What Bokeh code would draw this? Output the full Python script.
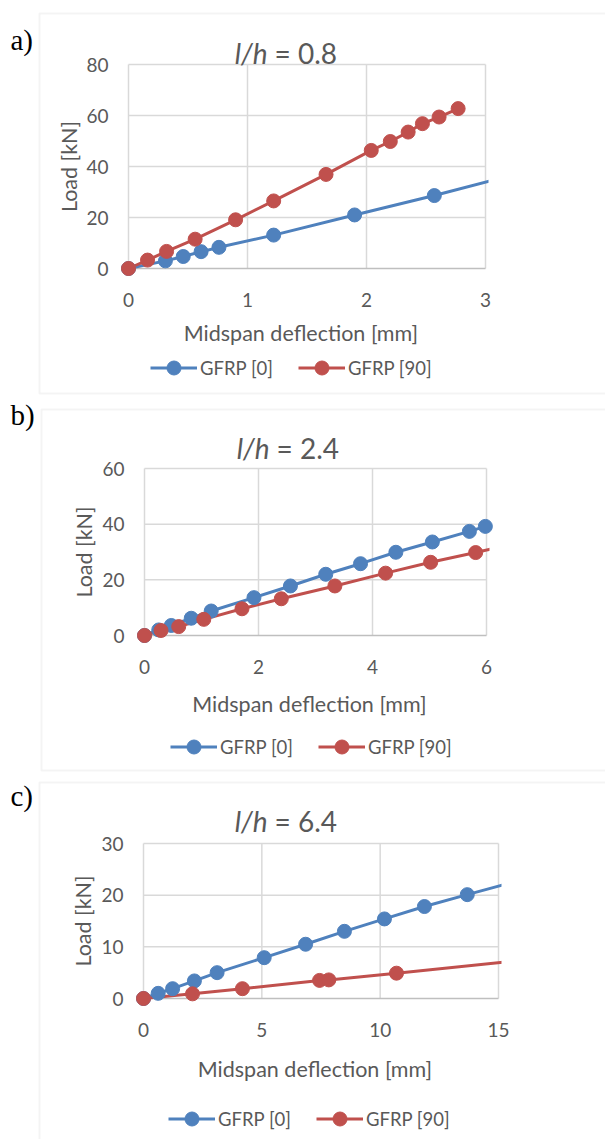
from bokeh.plotting import figure
from bokeh.layouts import column
from bokeh.models import (Range1d, FixedTicker, Label, Legend, LegendItem, BoxAnnotation)
from bokeh.embed import file_html
from bokeh.resources import INLINE

# ---------------- data ----------------
panel_tags = ["a)", "b)", "c)"]
titles_ratio = ["0.8", "2.4", "6.4"]
x_label = "Midspan deflection [mm]"
y_label = "Load [kN]"
series_names = ["GFRP [0]", "GFRP [90]"]

# panel a (l/h = 0.8)
a_x_ticks = [0, 1, 2, 3]
a_y_ticks = [0, 20, 40, 60, 80]
a_g0_x = [0, 0.31, 0.46, 0.61, 0.76, 1.22, 1.90, 2.57, 3.30]
a_g0_y = [0, 3.0, 4.7, 6.6, 8.3, 13.1, 21.0, 28.6, 37.5]
a_g90_x = [0, 0.16, 0.32, 0.56, 0.90, 1.22, 1.66, 2.04, 2.20, 2.35, 2.47, 2.61, 2.77]
a_g90_y = [0, 3.3, 6.7, 11.5, 19.1, 26.5, 36.9, 46.3, 49.8, 53.5, 56.8, 59.4, 62.7]

# panel b (l/h = 2.4)
b_x_ticks = [0, 2, 4, 6]
b_y_ticks = [0, 20, 40, 60]
b_g0_x = [0, 0.25, 0.47, 0.82, 1.17, 1.92, 2.56, 3.18, 3.79, 4.41, 5.05, 5.70, 5.98]
b_g0_y = [0, 2.0, 3.6, 6.2, 8.8, 13.6, 17.8, 22.0, 25.8, 29.9, 33.6, 37.4, 39.2]
b_g90_x = [0, 0.29, 0.60, 1.04, 1.71, 2.40, 3.34, 4.23, 5.02, 5.81, 6.50]
b_g90_y = [0, 1.8, 3.2, 5.8, 9.6, 13.2, 17.8, 22.4, 26.3, 29.8, 33.0]

# panel c (l/h = 6.4)
c_x_ticks = [0, 5, 10, 15]
c_y_ticks = [0, 10, 20, 30]
c_g0_x = [0, 0.62, 1.23, 2.15, 3.11, 5.10, 6.85, 8.49, 10.18, 11.87, 13.68, 15.60]
c_g0_y = [0, 1.0, 1.9, 3.4, 5.0, 7.9, 10.5, 13.0, 15.4, 17.8, 20.1, 22.5]
c_g90_x = [0, 2.07, 4.18, 7.44, 7.83, 10.69, 16.00]
c_g90_y = [0, 0.9, 1.9, 3.5, 3.6, 4.9, 7.4]

BLUE = "#4F81BD"
RED = "#C0504D"
GRID = "#D9D9D9"
AXIS = "#BFBFBF"
TXT = "#595959"
FONT = "Lato"

FIG_W = 605


def make_panel(tag, ratio, xt, yt, s0x, s0y, s90x, s90y, g):
    top, h = g["fig_top"], g["fig_h"]
    bottom = top + h
    L, R, T, B = g["L"], g["R"], g["T"], g["B"]
    x0, x1 = xt[0], xt[-1]
    y0, y1 = yt[0], yt[-1]
    ux = (x1 - x0) / (R - L)
    uy = (y1 - y0) / (B - T)
    Bl = B - top
    xs, xe = x0 - L * ux, x0 + (FIG_W - L) * ux
    ys, ye = y0 - (h - Bl) * uy, y0 + Bl * uy
    p = figure(
        output_backend="svg", toolbar_location=None,
        frame_width=FIG_W, frame_height=h,
        min_border=0, min_border_left=0, min_border_right=0,
        min_border_top=0, min_border_bottom=0,
        x_range=Range1d(xs, xe), y_range=Range1d(ys, ye),
        background_fill_color="white", border_fill_color="white",
        outline_line_color=None,
    )
    p.title.visible = False
    p.grid.visible = False

    # gridlines and axis line, from the tick lists
    p.segment(x0=xt, x1=xt, y0=[y0] * len(xt), y1=[y1] * len(xt),
              line_color=GRID, line_width=1.5, level="image")
    p.segment(x0=[x0] * (len(yt) - 1), x1=[x1] * (len(yt) - 1), y0=yt[1:], y1=yt[1:],
              line_color=GRID, line_width=1.5, level="image")
    p.segment(x0=[x0], x1=[x1], y0=[y0], y1=[y0], line_color=AXIS, line_width=1.5, level="image")

    r0l = p.line(s0x, s0y, line_color=BLUE, line_width=3, level="image")
    r9l = p.line(s90x, s90y, line_color=RED, line_width=3, level="image")
    # plot-area clip on the right side (lines run past the last tick)
    p.quad(left=[x1 + 3 * ux], right=[xe + 10 * ux], bottom=[ys], top=[ye],
           fill_color="white", line_color=None, level="underlay")
    # markers only for points on scale
    k0 = [i for i, v in enumerate(s0x) if v <= x1]
    k9 = [i for i, v in enumerate(s90x) if v <= x1]
    r0c = p.scatter([s0x[i] for i in k0], [s0y[i] for i in k0], size=14,
                    fill_color=BLUE, line_color=BLUE)
    r9c = p.scatter([s90x[i] for i in k9], [s90y[i] for i in k9], size=14,
                    fill_color=RED, line_color=RED)

    for ax, ticks, loc in ((p.xaxis[0], xt, y0), (p.yaxis[0], yt, x0)):
        ax.ticker = FixedTicker(ticks=ticks)
        ax.fixed_location = loc
        ax.axis_line_color = None
        ax.major_tick_line_color = None
        ax.minor_tick_line_color = None
        ax.major_tick_out = 0
        ax.major_tick_in = 0
        ax.major_label_text_font = FONT
        ax.major_label_text_font_size = "19px"
        ax.major_label_text_color = TXT
    p.xaxis.major_label_standoff = 24
    p.yaxis.major_label_standoff = 20

    def sx(xa):
        return xa

    def sy(ya):
        return bottom - ya

    # outer chart box
    p.add_layout(BoxAnnotation(left=sx(g["box_l"]), right=sx(FIG_W + 50), top=sy(g["box_t"]),
                               bottom=sy(g["box_b"]),
                               left_units="screen", right_units="screen",
                               top_units="screen", bottom_units="screen",
                               fill_color=None, fill_alpha=0, line_color=GRID, line_width=2))
    # panel tag
    p.add_layout(Label(x=sx(10), y=sy(g["tag_y"]), x_units="screen", y_units="screen",
                       text=tag, text_font="Liberation Serif", text_font_size="29px",
                       text_color="black", text_baseline="middle", text_align="left"))
    # title with italic l/h
    p.add_layout(Label(x=sx(g["split"]), y=sy(g["base"]), x_units="screen", y_units="screen",
                       text="l/h", text_font=FONT, text_font_size="28px", text_font_style="italic",
                       text_color=TXT, text_baseline="alphabetic", text_align="right"))
    p.add_layout(Label(x=sx(g["split"] + 7), y=sy(g["base"]), x_units="screen", y_units="screen",
                       text="= " + ratio, text_font=FONT, text_font_size="28px",
                       text_color=TXT, text_baseline="alphabetic", text_align="left"))
    # axis titles
    p.add_layout(Label(x=sx((L + R) / 2 - 6), y=sy(g["xlab_y"]), x_units="screen", y_units="screen",
                       text=x_label, text_font=FONT, text_font_size="21.5px",
                       text_color=TXT, text_baseline="middle", text_align="center"))
    p.add_layout(Label(x=sx(g["ylab_x"]), y=sy((T + B) / 2), x_units="screen", y_units="screen",
                       text=y_label, text_font=FONT, text_font_size="21.5px", angle=90,
                       angle_units="deg", text_color=TXT, text_baseline="middle",
                       text_align="center"))

    legend = Legend(items=[LegendItem(label=series_names[0], renderers=[r0l, r0c]),
                           LegendItem(label=series_names[1], renderers=[r9l, r9c])],
                    location=(sx(g["leg_x"]), sy(g["leg_y"]) - 17),
                    orientation="horizontal", glyph_width=47, glyph_height=35,
                    label_standoff=3, spacing=25, padding=0, margin=0,
                    border_line_color=None, background_fill_alpha=0,
                    label_text_font=FONT, label_text_font_size="18.5px", label_text_color=TXT)
    p.add_layout(legend, "center")
    return p


geoms = [
    dict(fig_top=0, fig_h=396, L=128, R=485, T=64, B=268, xlab_y=332, ylab_x=68,
         box_l=39, box_t=13, box_b=393, tag_y=39, split=267, base=52, leg_x=150, leg_y=368),
    dict(fig_top=396, fig_h=378, L=144, R=486, T=468, B=635, xlab_y=703, ylab_x=83,
         box_l=41, box_t=409, box_b=770, tag_y=414, split=269, base=447, leg_x=170, leg_y=747),
    dict(fig_top=774, fig_h=365, L=143, R=498, T=843, B=998, xlab_y=1068, ylab_x=82,
         box_l=39, box_t=782, box_b=1300, tag_y=795, split=267, base=820, leg_x=168, leg_y=1119),
]

panels = [
    make_panel(panel_tags[0], titles_ratio[0], a_x_ticks, a_y_ticks, a_g0_x, a_g0_y, a_g90_x, a_g90_y, geoms[0]),
    make_panel(panel_tags[1], titles_ratio[1], b_x_ticks, b_y_ticks, b_g0_x, b_g0_y, b_g90_x, b_g90_y, geoms[1]),
    make_panel(panel_tags[2], titles_ratio[2], c_x_ticks, c_y_ticks, c_g0_x, c_g0_y, c_g90_x, c_g90_y, geoms[2]),
]

layout = column(*panels, spacing=0)
open("out.html", "w").write(file_html(layout, INLINE))
